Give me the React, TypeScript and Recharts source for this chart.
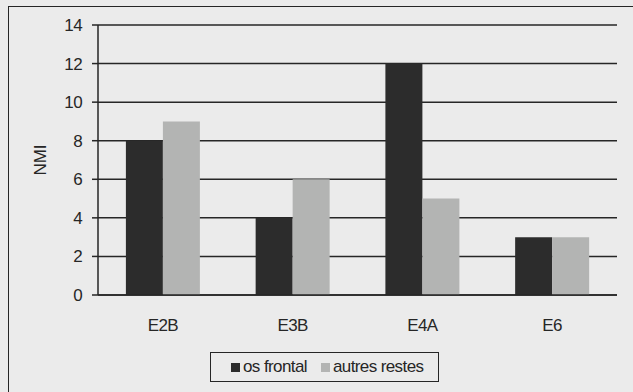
import { BarChart, Bar, XAxis, YAxis, CartesianGrid, Label } from 'recharts';

const niveaux = ['E2B', 'E3B', 'E4A', 'E6'];
const osFrontal = [8, 4, 12, 3];
const autresRestes = [9, 6, 5, 3];
const yTicks = [0, 2, 4, 6, 8, 10, 12, 14];

const DARK = '#2c2c2c';
const LIGHT = '#b3b4b3';
const INK = '#262626';
const FONT = '"Liberation Sans", Arial, sans-serif';

const data = niveaux.map((n, i) => ({
  niveau: n,
  osFrontal: osFrontal[i],
  autresRestes: autresRestes[i],
}));

const series = [
  { key: 'osFrontal', name: 'os frontal', color: DARK },
  { key: 'autresRestes', name: 'autres restes', color: LIGHT },
];

// boxed legend under the axis, drawn as plain html
function LegendBox() {
  return (
    <div
      style={{
        position: 'absolute',
        left: 210,
        top: 352,
        width: 229,
        height: 30,
        border: `1.5px solid ${INK}`,
        boxSizing: 'border-box',
        display: 'flex',
        alignItems: 'center',
        paddingLeft: 20,
        fontFamily: FONT,
        fontSize: 17,
        letterSpacing: -0.6,
        color: INK,
        whiteSpace: 'nowrap',
      }}
    >
      {series.map((s) => (
        <span key={s.key} style={{ display: 'inline-flex', alignItems: 'center', marginRight: 14 }}>
          <span style={{ width: 9, height: 9, background: s.color, marginRight: 3, display: 'inline-block' }} />
          <span>{s.name}</span>
        </span>
      ))}
    </div>
  );
}

export default function App() {
  return (
    <div
      style={{
        position: 'absolute',
        left: 0,
        top: 0,
        width: 633,
        height: 392,
        overflow: 'hidden',
        background: '#ebebeb',
      }}
    >
      <div
        style={{
          position: 'absolute',
          left: 8,
          top: 6,
          width: 660,
          height: 420,
          border: `1.5px solid ${INK}`,
        }}
      />
      <BarChart
        width={633}
        height={392}
        data={data}
        margin={{ top: 25, right: 16, bottom: 47, left: 0 }}
        barCategoryGap="21.5%"
        barGap={0}
        style={{ position: 'absolute', left: 0, top: 0 }}
      >
        <CartesianGrid vertical={false} stroke={INK} strokeWidth={1.5} />
        <XAxis
          dataKey="niveau"
          axisLine={{ stroke: INK, strokeWidth: 1.5 }}
          tickLine={false}
          tickMargin={18}
          height={50}
          tick={{ fill: INK, fontSize: 17, fontFamily: FONT, letterSpacing: -0.6 }}
        />
        <YAxis
          width={98}
          domain={[0, 14]}
          ticks={yTicks}
          interval={0}
          axisLine={{ stroke: INK, strokeWidth: 1.5 }}
          tickLine={{ stroke: INK, strokeWidth: 1.5 }}
          tickSize={6}
          tickMargin={10}
          tick={{ fill: INK, fontSize: 17, fontFamily: FONT, letterSpacing: -0.6 }}
        >
          <Label
            value="NMI"
            angle={-90}
            position="insideLeft"
            offset={40}
            style={{ fill: INK, fontSize: 17, fontFamily: FONT, textAnchor: 'middle' }}
          />
        </YAxis>
        {series.map((s) => (
          <Bar key={s.key} dataKey={s.key} name={s.name} fill={s.color} isAnimationActive={false} />
        ))}
      </BarChart>
      <LegendBox />
    </div>
  );
}
